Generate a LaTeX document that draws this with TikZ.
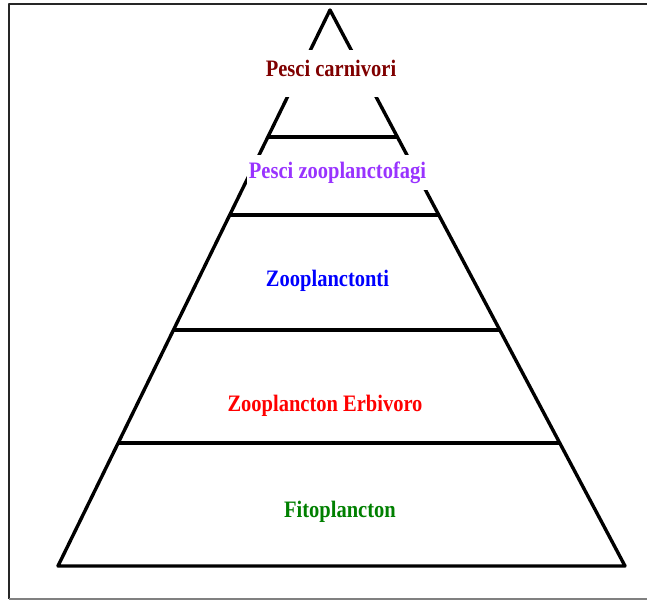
\documentclass[tikz,border=0pt]{standalone}
\usepackage{fontspec}
\usepackage{graphicx}
\setmainfont{Liberation Serif}
\usetikzlibrary{calc}
\definecolor{carnred}{RGB}{128,0,0}
\definecolor{zoopurple}{RGB}{153,51,255}
\definecolor{zooblue}{RGB}{0,0,255}
\definecolor{erbred}{RGB}{255,0,0}
\definecolor{fitogreen}{RGB}{0,128,0}
\newcommand{\tall}[1]{\scalebox{1}[1.15]{#1}}

\begin{document}
\begin{tikzpicture}[x=1pt, y=-1pt, line join=round,
tier/.style ={line width=3.4pt, black},
level/.style ={font=\bfseries\fontsize{20.5}{24}\selectfont, fill=white,
anchor=base, inner xsep=2pt, inner ysep=0pt, text height=24pt, text depth=11pt}]
\useasboundingbox (0,0) rectangle (647,601);

% frame
\draw[black!85, line width=1.6pt] (647,4) -- (9,4) -- (9,599);
\draw[gray, line width=1.2pt] (9,599) -- (647,599);

% pyramid
\coordinate (apex) at (330,10);
\coordinate (bl) at (58,566);
\coordinate (br) at (625,566);
\draw[tier] (bl) -- (apex) -- (br) -- cycle;
\foreach \t in {0.2284, 0.3687, 0.5755, 0.7788}
  \draw[tier] ($(apex)!\t!(bl)$) -- ($(apex)!\t!(br)$);

% levels
\node[level, text=carnred, text height=27pt, text depth=20pt] (carn) at (331,77) {\tall{Pesci carnivori}};
\node[level, text=zoopurple] (zoof) at (337.5,179) {\tall{Pesci zooplanctofagi}};
\node[level, text=zooblue] (zoot) at (327.5,287) {\tall{Zooplanctonti}};
\node[level, text=erbred] (erb) at (325,411) {\tall{Zooplancton Erbivoro}};
\node[level, text=fitogreen] (fito) at (340,517) {\tall{Fitoplancton}};
\end{tikzpicture}
\end{document}
